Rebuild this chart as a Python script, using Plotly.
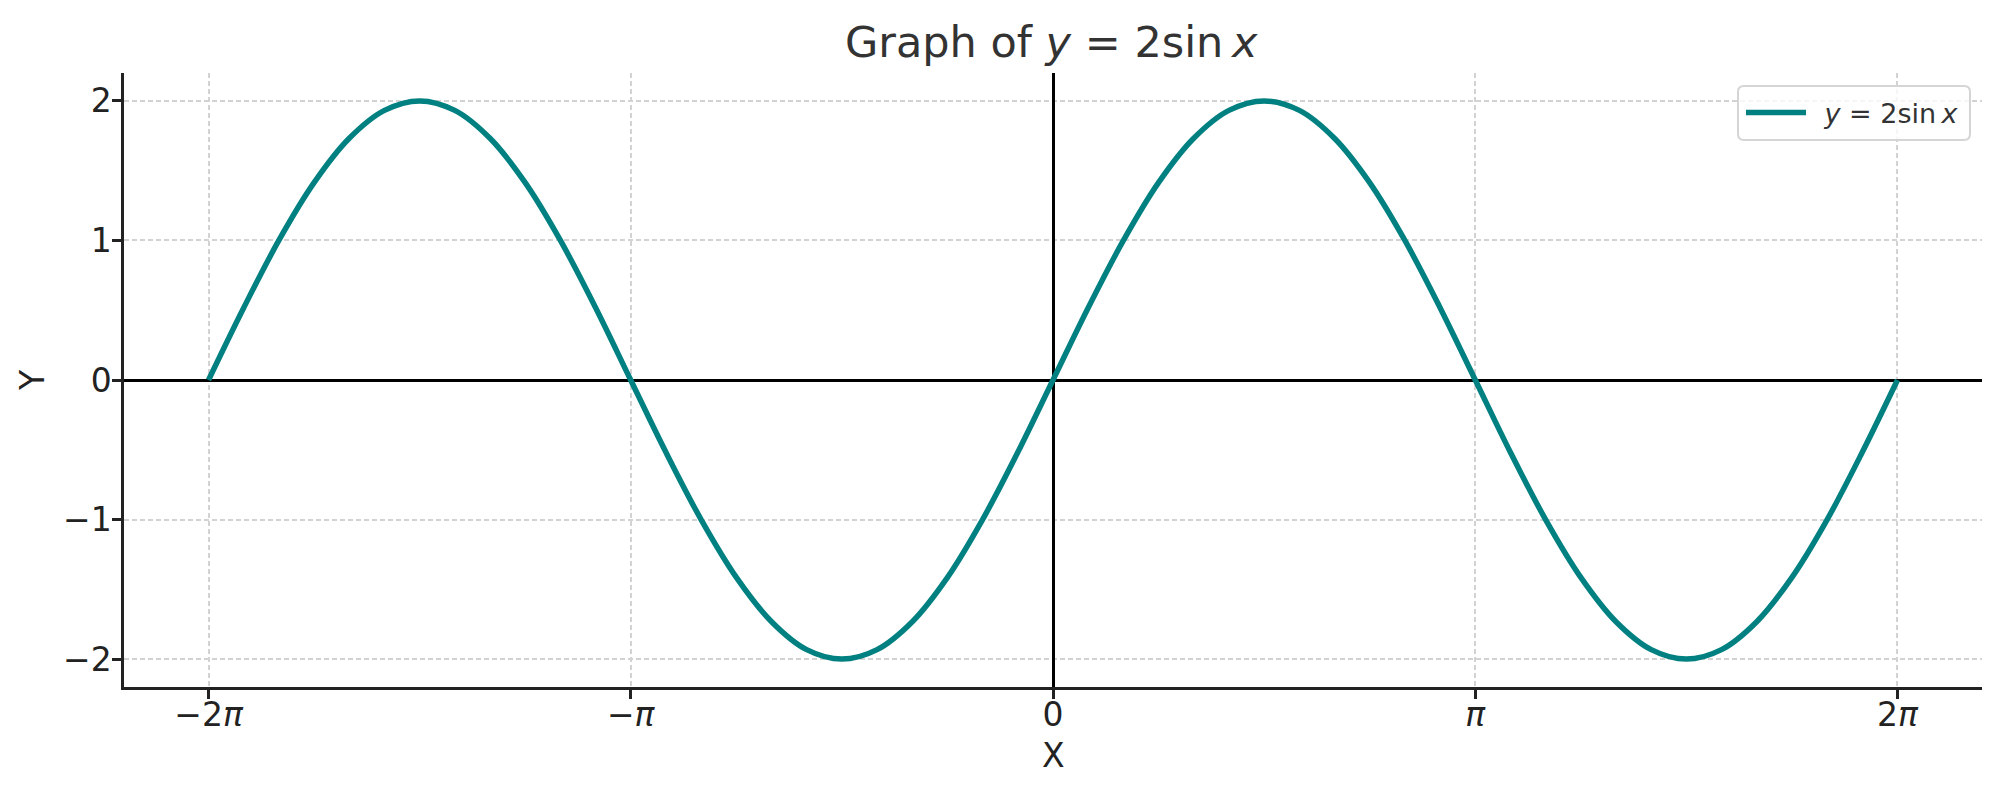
import plotly.graph_objects as go

# samples of the curve (steps of pi/12)
x_vals = [-6.283, -6.021, -5.760, -5.498, -5.236, -4.974, -4.712, -4.451, -4.189,
          -3.927, -3.665, -3.403, -3.142, -2.880, -2.618, -2.356, -2.094, -1.833,
          -1.571, -1.309, -1.047, -0.785, -0.524, -0.262, 0.0,
          0.262, 0.524, 0.785, 1.047, 1.309, 1.571, 1.833, 2.094, 2.356, 2.618,
          2.880, 3.142, 3.403, 3.665, 3.927, 4.189, 4.451, 4.712, 4.974, 5.236,
          5.498, 5.760, 6.021, 6.283]
y_vals = [0.0, 0.518, 1.0, 1.414, 1.732, 1.932, 2.0, 1.932, 1.732,
          1.414, 1.0, 0.518, 0.0, -0.518, -1.0, -1.414, -1.732, -1.932,
          -2.0, -1.932, -1.732, -1.414, -1.0, -0.518, 0.0,
          0.518, 1.0, 1.414, 1.732, 1.932, 2.0, 1.932, 1.732, 1.414, 1.0,
          0.518, 0.0, -0.518, -1.0, -1.414, -1.732, -1.932, -2.0, -1.932, -1.732,
          -1.414, -1.0, -0.518, 0.0]

x_ticks = [-6.283, -3.142, 0.0, 3.142, 6.283]
x_tick_text = ["\u22122<i>\u03c0</i>", "\u2212<i>\u03c0</i>", "0", "<i>\u03c0</i>", "2<i>\u03c0</i>"]
y_ticks = [-2, -1, 0, 1, 2]
y_tick_text = ["\u22122", "\u22121", "0", "1", "2"]

TEAL = "#008080"
FONT = "DejaVu Sans"
MATH = "<i>y</i> = 2sin\u2009<i>x</i>"

# plot area in window pixels (used to place the legend frame)
PL, PR, PT, PB = 124, 1982, 73, 687
def px(x):
  return (x - PL) / (PR - PL)
def py(y):
  return 1 - (y - PT) / (PB - PT)

curve = go.Scatter(
  x=x_vals, y=y_vals, mode="lines",
  line=dict(color=TEAL, width=5.5, shape="spline", smoothing=1.0),
  name="\u2002" + MATH
  )

fig = go.Figure(data=[curve])

axis_style = dict(
  showline=True, linecolor="#222222", linewidth=2.5,
  ticks="outside", ticklen=9, tickwidth=2.5, tickcolor="#222222",
  tickfont=dict(family=FONT, size=33, color="#222222"),
  showgrid=True, gridcolor="#d3d3d3", gridwidth=1.5, griddash="5px,3px",
  zeroline=True, zerolinecolor="#000000", zerolinewidth=2.5,
  mirror=False
  )

fig.update_xaxes(range=[-6.912, 6.912], tickvals=x_ticks, ticktext=x_tick_text,
                 ticklabelstandoff=-12, **axis_style)
fig.update_yaxes(range=[-2.2, 2.2], tickvals=y_ticks, ticktext=y_tick_text,
                 ticklabelstandoff=-6, **axis_style)

# rounded legend frame, semi transparent like the original
bx0, bx1, by0, by1, r = 1738, 1970, 86, 140, 6
frame = ("M {a},{b} L {c},{b} Q {x1},{b} {x1},{d} L {x1},{e} Q {x1},{y1} {c},{y1} "
         "L {a},{y1} Q {x0},{y1} {x0},{e} L {x0},{d} Q {x0},{b} {a},{b} Z").format(
  a=px(bx0 + r), c=px(bx1 - r), x0=px(bx0), x1=px(bx1),
  b=py(by0), d=py(by0 + r), e=py(by1 - r), y1=py(by1))

# the page body adds 8px, so the figure is a bit smaller than the window
fig.update_layout(
  width=1987, height=779,
  margin=dict(l=116, r=13, t=65, b=100),
  paper_bgcolor="white", plot_bgcolor="white",
  font=dict(family=FONT, color="#222222"),
  title=dict(text="Graph of " + MATH, x=0.525, xanchor="center",
             y=0.956, yanchor="middle",
             font=dict(family=FONT, size=43, color="#333333")),
  legend=dict(x=px(1741), y=py(113), xanchor="left", yanchor="middle",
              bgcolor="rgba(0,0,0,0)", borderwidth=0,
              itemwidth=60,
              font=dict(family=FONT, size=27, color="#333333")),
  showlegend=True,
  shapes=[dict(type="path", path=frame, xref="paper", yref="paper",
               fillcolor="rgba(255,255,255,0.8)",
               line=dict(color="#d5d5d5", width=2), layer="above")],
  annotations=[
    dict(text="X", xref="paper", yref="paper", x=0.5, y=-0.112,
         xanchor="center", yanchor="middle", showarrow=False,
         font=dict(family=FONT, size=33, color="#222222")),
    dict(text="Y", xref="paper", yref="paper", x=-0.0495, y=0.5,
         xanchor="center", yanchor="middle", showarrow=False, textangle=-90,
         font=dict(family=FONT, size=33, color="#222222")),
    ]
  )

fig.write_html("out.html")
